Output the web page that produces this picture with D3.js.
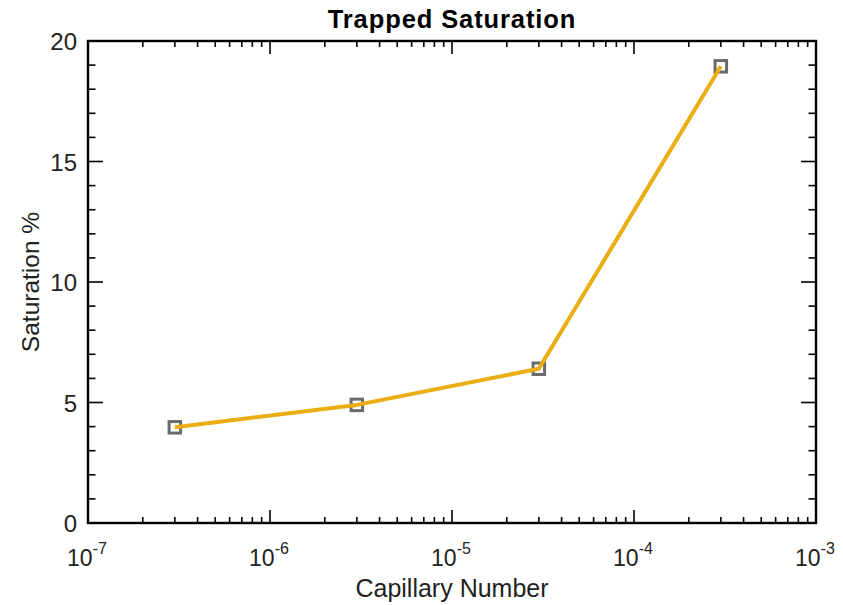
<!DOCTYPE html>
<html>
<head>
<meta charset="utf-8">
<script src="https://cdn.jsdelivr.net/npm/d3@7"></script>
<style>
  html, body { margin: 0; padding: 0; background: #fff; }
  svg { display: block; font-family: "Liberation Sans", Arial, Helvetica, sans-serif; }
</style>
</head>
<body>
<svg id="chart" width="843" height="605"></svg>
<script>
// Capillary number vs trapped saturation
const capillaryNumbers = [3e-7, 3e-6, 3e-5, 3e-4];
const saturationPct = [3.97, 4.9, 6.4, 18.95];
const xTickExponents = [-7, -6, -5, -4, -3];
const yTickValues = [0, 5, 10, 15, 20];

const W = 843, H = 605;
const margin = { left: 88, top: 41, right: W - 816, bottom: H - 523 };
const svg = d3.select("#chart");

const x = d3.scaleLog().domain([1e-7, 1e-3]).range([margin.left, W - margin.right]);
const y = d3.scaleLinear().domain([0, 20]).range([H - margin.bottom, margin.top]);

const x0 = x.range()[0], x1 = x.range()[1];
const y0 = y.range()[0], y1 = y.range()[1];

// minor ticks for log axis: 2..9 in each decade
const xMinor = [];
for (let e = -7; e < -3; e++) for (let m = 2; m <= 9; m++) xMinor.push(m * Math.pow(10, e));
const yMinor = d3.range(0, 21, 1).filter(v => v % 5 !== 0);

const g = svg.append("g").attr("stroke", "#000").attr("stroke-width", 1.6);
const xMajorLen = 13, xMinorLen = 6, yMajorLen = 15, yMinorLen = 7.5;

// bottom & top ticks (inward)
xTickExponents.forEach(e => {
  const px = x(Math.pow(10, e));
  g.append("line").attr("x1", px).attr("x2", px).attr("y1", y0).attr("y2", y0 - xMajorLen);
  g.append("line").attr("x1", px).attr("x2", px).attr("y1", y1).attr("y2", y1 + xMajorLen);
});
xMinor.forEach(v => {
  const px = x(v);
  g.append("line").attr("x1", px).attr("x2", px).attr("y1", y0).attr("y2", y0 - xMinorLen);
  g.append("line").attr("x1", px).attr("x2", px).attr("y1", y1).attr("y2", y1 + xMinorLen);
});
// left & right ticks (inward)
yTickValues.forEach(v => {
  const py = y(v);
  g.append("line").attr("x1", x0).attr("x2", x0 + yMajorLen).attr("y1", py).attr("y2", py);
  g.append("line").attr("x1", x1).attr("x2", x1 - yMajorLen).attr("y1", py).attr("y2", py);
});
yMinor.forEach(v => {
  const py = y(v);
  g.append("line").attr("x1", x0).attr("x2", x0 + yMinorLen).attr("y1", py).attr("y2", py);
  g.append("line").attr("x1", x1).attr("x2", x1 - yMinorLen).attr("y1", py).attr("y2", py);
});

// axes box
svg.append("rect")
  .attr("x", x0).attr("y", y1).attr("width", x1 - x0).attr("height", y0 - y1)
  .attr("fill", "none").attr("stroke", "#000").attr("stroke-width", 2.4);

// x tick labels: 10^e
xTickExponents.forEach(e => {
  const t = svg.append("text")
    .attr("x", x(Math.pow(10, e)) - 1).attr("y", y0 + 43)
    .attr("text-anchor", "middle").attr("font-size", 23).attr("fill", "#222");
  t.append("tspan").text("10");
  t.append("tspan").text(String(e)).attr("font-size", 16).attr("dy", -12.5);
});

// y tick labels
yTickValues.forEach(v => {
  svg.append("text")
    .attr("x", x0 - 11).attr("y", y(v) + 9)
    .attr("text-anchor", "end").attr("font-size", 24).attr("fill", "#222")
    .text(v);
});

// data markers
const pts = capillaryNumbers.map((c, i) => [x(c), y(saturationPct[i])]);
const ms = 11.5;
svg.append("g").selectAll("rect").data(pts).join("rect")
  .attr("x", d => d[0] - ms / 2).attr("y", d => d[1] - ms / 2)
  .attr("width", ms).attr("height", ms)
  .attr("fill", "none").attr("stroke", "#6b6b6b").attr("stroke-width", 3);

// data line
svg.append("path")
  .datum(capillaryNumbers.map((c, i) => ({ c, s: saturationPct[i] })))
  .attr("d", d3.line().x(d => x(d.c)).y(d => y(d.s)))
  .attr("fill", "none").attr("stroke", "#EAAD12").attr("stroke-width", 4)
  .attr("stroke-linejoin", "round");

// title and axis labels
svg.append("text")
  .attr("x", (x0 + x1) / 2).attr("y", 27.5)
  .attr("text-anchor", "middle").attr("font-size", 25.5).attr("font-weight", "bold")
  .attr("letter-spacing", 0.9)
  .attr("fill", "#000").text("Trapped Saturation");

svg.append("text")
  .attr("x", (x0 + x1) / 2).attr("y", 597)
  .attr("text-anchor", "middle").attr("font-size", 25).attr("fill", "#222")
  .text("Capillary Number");

svg.append("text")
  .attr("transform", `translate(38.5,${(y0 + y1) / 2}) rotate(-90)`)
  .attr("text-anchor", "middle").attr("font-size", 24.5).attr("fill", "#222")
  .text("Saturation %");
</script>
</body>
</html>
